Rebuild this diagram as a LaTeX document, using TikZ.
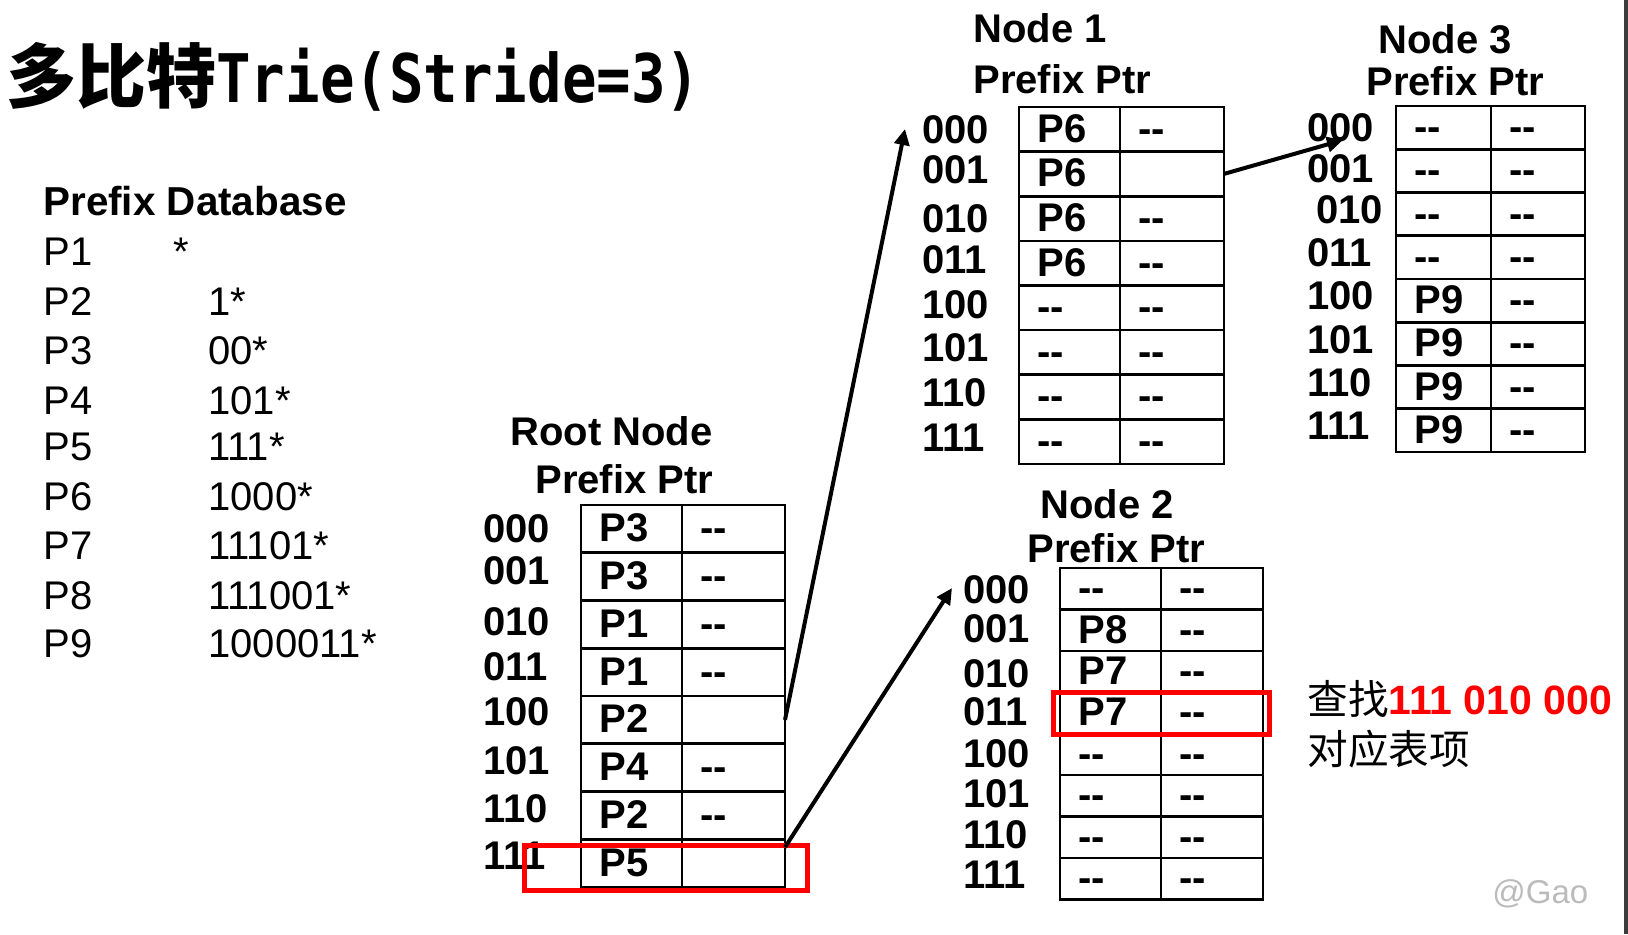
\documentclass[tikz,border=0pt]{standalone}
\usepackage{fontspec}
\setmainfont{Liberation Sans}
\newfontfamily\cjk{Noto Sans CJK SC}
\newfontfamily\titlemono[FakeStretch=0.857]{DejaVu Sans Mono}
\usetikzlibrary{arrows.meta,calc}
\definecolor{barcol}{HTML}{3C3C3C}
\definecolor{gaogray}{HTML}{BBBBBB}
\definecolor{hlred}{HTML}{FF0000}
\newcommand\dd{-{}-}
\tikzset{
 cell/.style={draw, line width=1.3pt, rectangle, inner sep=0pt, outer sep=0pt, anchor=north west},
 ctext/.style={anchor=base west, inner sep=0pt, font=\bfseries\fontsize{20}{23}\selectfont},
 lbl/.style={anchor=base west, inner sep=0pt, font=\bfseries\fontsize{20}{23}\selectfont},
 plain/.style={anchor=base west, inner sep=0pt, font=\fontsize{20}{23}\selectfont},
 ptr/.style={line width=2pt, -{Triangle[length=8pt,width=7.5pt]}},
 redbox/.style={draw=hlred, line width=2.5pt},
}
\newcommand\ptable[7]{%
 \foreach \ea/\eb [count=\i] in {#7} {
   \node[cell, minimum width=#3*0.5pt, minimum height=#6*0.5pt] (#1-\i-a) at (#2, {#5+(\i-1)*#6}) {};
   \node[cell, minimum width=#4*0.5pt, minimum height=#6*0.5pt] (#1-\i-b) at ({#2+#3}, {#5+(\i-1)*#6}) {};
   \node[ctext] (#1-\i-ta) at ({#2+18}, {#5+(\i-0.5)*#6+13}) {\ea};
   \node[ctext] (#1-\i-tb) at ({#2+#3+18}, {#5+(\i-0.5)*#6+13}) {\eb};
 }%
}
\begin{document}
\begin{tikzpicture}[x=0.5pt,y=-0.5pt]
\useasboundingbox (0,0) rectangle (1628,934);
\fill[white] (0,0) rectangle (1628,934);
\fill[barcol] (1624,0) rectangle (1628,934);

% title
\node[anchor=base west, inner sep=0pt] (title) at (6,102)
 {{\cjk\bfseries\fontsize{35}{40}\selectfont 多比特}{\titlemono\bfseries\fontsize{33.5}{40}\selectfont Trie(Stride=3)}};

% prefix database
\node[plain, font=\bfseries\fontsize{20.2}{23}\selectfont] (dbh) at (43,215) {Prefix Database};
\foreach \p/\v/\xx/\yy [count=\i] in {P1/*/173/265, P2/1*/208/315, P3/00*/208/364, P4/101*/208/414, P5/111*/208/460, P6/1000*/208/510, P7/11101*/208/559, P8/111001*/208/609, P9/1000011*/208/657}{
  \node[plain] (dbp\i) at (43,\yy) {\p};
  \node[plain] (dbv\i) at (\xx,\yy) {\v};
}

% root node
\node[lbl] (rooth1) at (510,445) {Root Node};
\node[lbl] (rooth2) at (535,493) {Prefix Ptr};
\ptable{root}{581}{101}{103}{505}{47.75}{P3/\dd, P3/\dd, P1/\dd, P1/\dd, P2/{}, P4/\dd, P2/\dd, P5/{}}
\foreach \t/\yy [count=\i] in {000/542,001/584,010/635,011/680,100/725,101/774,110/822,111/869}
  \node[lbl] (rootl\i) at (483,\yy) {\t};

% node 1
\node[lbl] (nah1) at (973,42) {Node 1};
\node[lbl] (nah2) at (973,93) {Prefix Ptr};
\ptable{na}{1019}{101}{104}{107}{44.6}{P6/\dd, P6/{}, P6/\dd, P6/\dd, \dd/\dd, \dd/\dd, \dd/\dd, \dd/\dd}
\foreach \t/\yy [count=\i] in {000/143,001/183,010/232,011/273,100/318,101/361,110/406,111/451}
  \node[lbl] (nal\i) at (922,\yy) {\t};

% node 3
\node[lbl] (nch1) at (1378,53) {Node 3};
\node[lbl] (nch2) at (1366,95) {Prefix Ptr};
\ptable{nc}{1396}{95}{94}{106}{43.25}{\dd/\dd, \dd/\dd, \dd/\dd, \dd/\dd, P9/\dd, P9/\dd, P9/\dd, P9/\dd}
\foreach \t/\xx/\yy [count=\i] in {000/1307/141,001/1307/182,010/1316/223,011/1307/266,100/1307/309,101/1307/353,110/1307/396,111/1307/439}
  \node[lbl] (ncl\i) at (\xx,\yy) {\t};

% node 2
\node[lbl] (nbh1) at (1040,518) {Node 2};
\node[lbl] (nbh2) at (1027,562) {Prefix Ptr};
\ptable{nb}{1060}{101}{102}{568}{41.4}{\dd/\dd, P8/\dd, P7/\dd, P7/\dd, \dd/\dd, \dd/\dd, \dd/\dd, \dd/\dd}
\foreach \t/\yy [count=\i] in {000/603,001/642,010/687,011/725,100/767,101/807,110/848,111/888}
  \node[lbl] (nbl\i) at (963,\yy) {\t};

% red highlight boxes
\draw[redbox] (524.5,845.5) rectangle (807.5,890.5);
\draw[redbox] (1053.5,692.5) rectangle (1269.5,734.5);

% pointers
\coordinate (t1) at (905,129);
\coordinate (t2) at (952,588);
\coordinate (t3) at (1343,140);
\draw[ptr] (root-5-b.east) -- (t1);
\draw[ptr] ($(root-8-b.north east)+(0,8)$) -- (t2);
\draw[ptr] (na-2-b.east) -- (t3);

% annotation
\node[anchor=base west, inner sep=0pt] (q1) at (1307,714)
 {{\cjk\fontsize{20.3}{24}\selectfont 查找}{\color{hlred}\bfseries\fontsize{20.5}{24}\selectfont 111 010 000}};
\node[anchor=base west, inner sep=0pt] (q2) at (1307,764) {\cjk\fontsize{20.3}{24}\selectfont 对应表项};
\node[anchor=base west, inner sep=0pt, text=gaogray] (gao) at (1492,903) {\fontsize{16.5}{20}\selectfont @Gao};
\end{tikzpicture}
\end{document}
